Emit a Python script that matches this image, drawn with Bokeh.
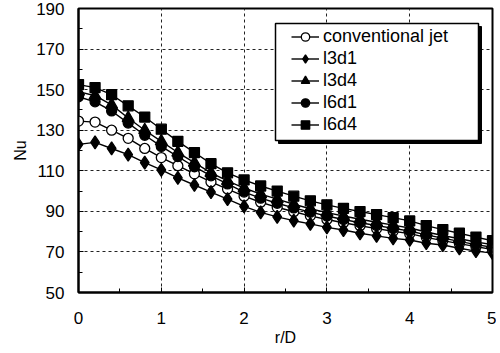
from bokeh.plotting import figure
from bokeh.models import Range1d, FixedTicker, Legend, LegendItem, BoxAnnotation
from bokeh.embed import file_html
from bokeh.resources import INLINE

r_over_D = [0.0, 0.2, 0.4, 0.6, 0.8, 1.0, 1.2, 1.4, 1.6, 1.8, 2.0, 2.2, 2.4,
            2.6, 2.8, 3.0, 3.2, 3.4, 3.6, 3.8, 4.0, 4.2, 4.4, 4.6, 4.8, 5.0]

conventional_jet = [134.5, 134.0, 130.0, 126.0, 121.0, 116.5, 112.5, 108.5, 104.5, 101.0,
                    97.5, 94.5, 92.0, 89.8, 87.8, 86.0, 84.4, 82.9, 81.5, 80.2,
                    79.0, 77.2, 75.6, 74.1, 72.6, 71.2]
l3d1 = [123.0, 124.0, 121.0, 118.0, 114.0, 110.5, 106.5, 103.0, 99.5, 96.0,
        92.5, 89.5, 87.3, 85.4, 83.8, 82.1, 80.8, 79.2, 77.9, 76.7,
        75.9, 74.3, 73.4, 71.8, 70.4, 69.4]
l3d4 = [149.0, 147.0, 142.5, 136.0, 130.0, 124.5, 119.0, 114.0, 109.0, 105.0,
        101.5, 98.5, 96.0, 93.5, 91.3, 89.4, 87.7, 86.1, 84.6, 83.2,
        81.8, 79.8, 78.1, 76.5, 74.9, 73.6]
l6d1 = [146.5, 144.0, 139.5, 133.5, 127.5, 122.0, 117.0, 112.0, 107.5, 103.5,
        99.5, 96.5, 94.0, 91.7, 89.6, 87.7, 86.0, 84.4, 83.0, 81.6,
        80.3, 78.4, 76.8, 75.2, 73.6, 72.3]
l6d4 = [152.5, 151.0, 147.5, 142.0, 136.5, 130.5, 124.5, 119.0, 113.5, 109.0,
        105.5, 102.5, 100.0, 97.5, 95.2, 93.2, 91.5, 89.9, 88.4, 86.9,
        85.3, 83.0, 81.0, 79.2, 77.3, 75.5]

x_ticks = [0, 1, 2, 3, 4, 5]
x_minor = [0.5, 1.5, 2.5, 3.5, 4.5]
y_ticks = [50, 70, 90, 110, 130, 150, 170, 190]
y_minor = [60, 80, 100, 120, 140, 160, 180]

FONT = "Liberation Sans"

p = figure(width=496, height=352, output_backend="svg", toolbar_location=None,
           x_range=Range1d(0, 5), y_range=Range1d(50, 190),
           min_border_left=78, min_border_right=4, min_border_top=8, min_border_bottom=60,
           x_axis_label="r/D", y_axis_label="Nu")

p.outline_line_color = "black"
p.outline_line_width = 2
p.background_fill_color = "white"
p.border_fill_color = "white"

p.xaxis.ticker = FixedTicker(ticks=x_ticks, minor_ticks=x_minor)
p.yaxis.ticker = FixedTicker(ticks=y_ticks, minor_ticks=y_minor)

for ax in (p.xaxis[0], p.yaxis[0]):
    ax.axis_line_width = 2
    ax.axis_line_color = "black"
    ax.major_tick_in = 5
    ax.major_tick_out = 0
    ax.minor_tick_in = 4
    ax.minor_tick_out = 0
    ax.major_tick_line_color = "black"
    ax.minor_tick_line_color = "black"
    ax.major_label_text_font = FONT
    ax.major_label_text_font_size = "17px"
    ax.major_label_text_color = "black"
    ax.axis_label_text_font = FONT
    ax.axis_label_text_font_size = "16px"
    ax.axis_label_text_font_style = "normal"
    ax.axis_label_text_color = "black"

p.xaxis.major_label_standoff = 19
p.xaxis.axis_label_standoff = 2
p.yaxis.major_label_standoff = 14
p.yaxis.axis_label_standoff = 4

p.xgrid.ticker = FixedTicker(ticks=[1, 2, 3, 4])
p.ygrid.ticker = FixedTicker(ticks=[70, 90, 110, 130, 150, 170])
for g in (p.xgrid[0], p.ygrid[0]):
    g.grid_line_color = "#222222"
    g.grid_line_dash = "3 3"
    g.grid_line_width = 1

series = [
    ("conventional jet", conventional_jet, "circle", 10, "white"),
    ("l3d1", l3d1, "diamond", 13, "black"),
    ("l3d4", l3d4, "triangle", 12, "black"),
    ("l6d1", l6d1, "circle", 10, "black"),
    ("l6d4", l6d4, "square", 10, "black"),
]

items = []
for name, ys, marker, size, fill in series:
    ln = p.line(r_over_D, ys, line_color="black", line_width=1.4)
    sc = p.scatter(r_over_D, ys, marker=marker, size=size, fill_color=fill,
                   line_color="black", line_width=1.3)
    items.append(LegendItem(label=name, renderers=[ln, sc]))

# legend frame (screen units: from frame left / frame bottom)
shadow = BoxAnnotation(left=200, right=403, bottom=149, top=266,
                       left_units="screen", right_units="screen",
                       top_units="screen", bottom_units="screen",
                       fill_color="black", fill_alpha=1, line_color="black", line_alpha=1)
box = BoxAnnotation(left=197, right=400, bottom=152, top=269,
                    left_units="screen", right_units="screen",
                    top_units="screen", bottom_units="screen",
                    fill_color="white", fill_alpha=1, line_color="black",
                    line_alpha=1, line_width=1.5)
p.add_layout(shadow)
p.add_layout(box)

legend = Legend(items=items, location=(208, 152))
legend.label_text_font = FONT
legend.label_text_font_size = "18px"
legend.label_text_color = "black"
legend.border_line_alpha = 0
legend.background_fill_alpha = 0
legend.padding = 5
legend.spacing = 1
legend.glyph_width = 28
legend.glyph_height = 21
legend.label_height = 21
legend.label_standoff = 4
legend.margin = 0
p.add_layout(legend, "center")

open("out.html", "w").write(file_html(p, INLINE))
